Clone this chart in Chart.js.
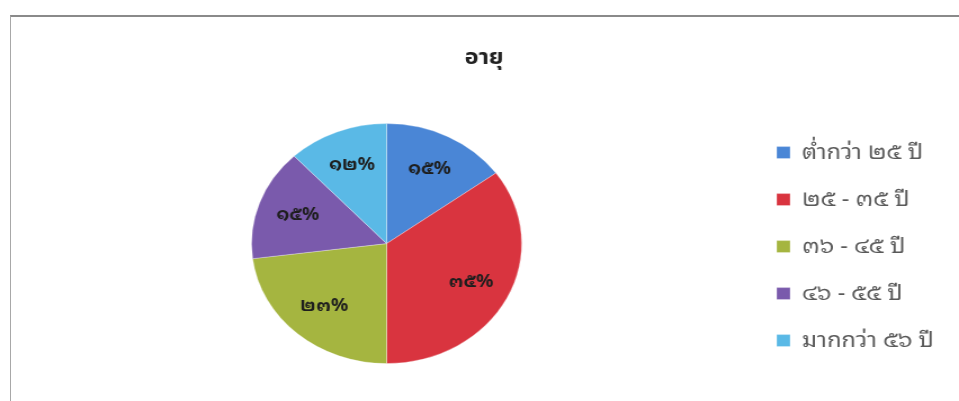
<!DOCTYPE html>
<html>
<head>
<meta charset="utf-8">
<script src="https://cdn.jsdelivr.net/npm/chart.js@4"></script>
<style>
  html,body{margin:0;padding:0;background:#fff;}
  #wrap{position:relative;width:959px;height:401px;overflow:hidden;}
  #c{position:absolute;left:0;top:0;width:959px;height:401px;}
  #frame{position:absolute;left:10px;top:15px;width:1000px;height:500px;border-top:2px solid #8a8a8a;border-left:1px solid #a8a8a8;pointer-events:none;}
</style>
</head>
<body>
<div id="wrap">
  <canvas id="c" width="852" height="401" style="width:959px;height:401px;"></canvas>
  <div id="frame"></div>
</div>
<script>
const chartTitle = 'อายุ';
const categories = ['ต่ำกว่า ๒๕ ปี', '๒๕ - ๓๕ ปี', '๓๖ - ๔๕ ปี', '๔๖ - ๕๕ ปี', 'มากกว่า ๕๖ ปี'];
const values = [15, 35, 23, 15, 12];
const colors = ['#4a86d6', '#d9343f', '#a5b540', '#7a5aac', '#5ab9e6'];

const thaiFont = '"Noto Sans Thai Looped", Loma, Waree, Tahoma, "Noto Sans Thai", "Noto Sans", "DejaVu Sans", sans-serif';
const thaiDigits = ['๐','๑','๒','๓','๔','๕','๖','๗','๘','๙'];
function toThai(n){ return String(n).replace(/[0-9]/g, d => thaiDigits[+d]); }

const sliceLabels = {
  id: 'sliceLabels',
  afterDatasetsDraw(chart) {
    const ctx = chart.ctx;
    const meta = chart.getDatasetMeta(0);
    const data = chart.data.datasets[0].data;
    const total = data.reduce((a, b) => a + b, 0);
    ctx.save();
    ctx.font = 'bold 17px ' + thaiFont;
    ctx.fillStyle = '#1e1e1e';
    ctx.textAlign = 'center';
    ctx.textBaseline = 'middle';
    meta.data.forEach((arc, i) => {
      const p = arc.getProps(['x','y','startAngle','endAngle','outerRadius'], true);
      const mid = (p.startAngle + p.endAngle) / 2;
      const r = p.outerRadius * 0.7;
      const pct = Math.round(data[i] / total * 100);
      ctx.fillText(toThai(pct) + '%', p.x + Math.cos(mid) * r, p.y + Math.sin(mid) * r);
    });
    ctx.restore();
  }
};

new Chart(document.getElementById('c'), {
  type: 'pie',
  data: {
    labels: categories,
    datasets: [{
      data: values,
      backgroundColor: colors,
      borderColor: 'rgba(255,255,255,0.3)',
      borderWidth: 1,
      radius: 120
    }]
  },
  options: {
    responsive: false,
    animation: false,
    devicePixelRatio: 1,
    layout: { padding: { left: 23, right: 15, top: 0, bottom: 8 } },
    plugins: {
      title: {
        display: true,
        text: chartTitle,
        color: '#222',
        font: { size: 21, weight: 'bold', family: '"Noto Sans Thai", ' + thaiFont },
        padding: { top: 47, bottom: 22 }
      },
      legend: {
        position: 'right',
        align: 'center',
        fullSize: false,
        maxWidth: 173,
        title: { display: true, text: ' ', padding: 0, font: { size: 5 } },
        labels: {
          boxWidth: 12,
          boxHeight: 12,
          padding: 26,
          color: '#595959',
          font: { size: 21, family: thaiFont }
        }
      },
      tooltip: { enabled: false }
    }
  },
  plugins: [sliceLabels]
});
</script>
</body>
</html>
